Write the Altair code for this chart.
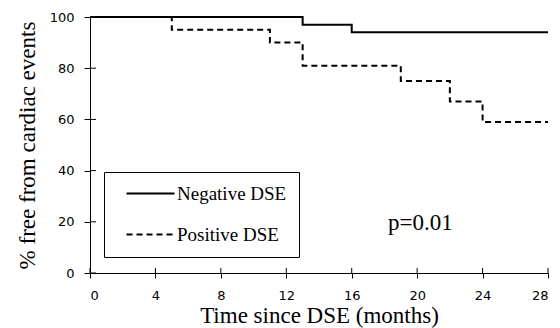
import altair as alt
import pandas as pd

# Kaplan-Meier steps
neg_time = [0, 13, 16, 28]
neg_free = [100, 97, 94, 94]
pos_time = [0, 5, 11, 13, 19, 22, 24, 28]
pos_free = [100, 95, 90, 81, 75, 67, 59, 59]
groups = ["Negative DSE", "Positive DSE"]

x_ticks = [0, 4, 8, 12, 16, 20, 24, 28]
y_ticks = [0, 20, 40, 60, 80, 100]

p_label = ["p=0.01"]
p_x = [20.2]
p_y = [19.7]

df = pd.concat([
    pd.DataFrame({"time": neg_time, "free": neg_free, "group": groups[0], "ord": 1}),
    pd.DataFrame({"time": pos_time, "free": pos_free, "group": groups[1], "ord": 0}),
])

W, H = 458, 256
xs = alt.Scale(domain=[0, 28], nice=False, zero=False)
ys = alt.Scale(domain=[0, 100], nice=False)

lines = alt.Chart(df).mark_line(interpolate="step-after", strokeWidth=2, color="black").encode(
    x=alt.X("time:Q", scale=xs,
            axis=alt.Axis(values=x_ticks, title="Time since DSE (months)", grid=False,
                          tickSize=5, labelPadding=11, titlePadding=2)),
    y=alt.Y("free:Q", scale=ys,
            axis=alt.Axis(values=y_ticks, title="% free from cardiac events", grid=False,
                          tickSize=6, labelPadding=10, titlePadding=10)),
    strokeDash=alt.StrokeDash(
        "group:N",
        scale=alt.Scale(domain=groups, range=[[1, 0], [6, 4]]),
        legend=alt.Legend(
            title=None, orient="none", legendX=14, legendY=155,
            symbolType="M-3,0H3", symbolSize=256, symbolStrokeWidth=2,
            symbolStrokeColor="black", symbolOffset=25, labelOffset=17,
            labelFont="Liberation Serif", labelFontSize=19, labelColor="black",
            strokeColor="black", padding=12, rowPadding=21, fillColor="white",
        ),
    ),
    order="ord:Q",
)

ytick_df = pd.DataFrame({"v": y_ticks})
xtick_df = pd.DataFrame({"v": x_ticks})

yin = alt.Chart(ytick_df).mark_rule(color="black", strokeWidth=1).encode(
    y=alt.Y("v:Q", scale=ys), x=alt.value(0), x2=alt.value(6))
xin = alt.Chart(xtick_df).mark_rule(color="black", strokeWidth=1).encode(
    x=alt.X("v:Q", scale=xs), y=alt.value(H), y2=alt.value(H - 5))

ptext = alt.Chart(pd.DataFrame({"x": p_x, "y": p_y, "t": p_label})).mark_text(
    font="Liberation Serif", fontSize=23, color="black", align="center", baseline="middle"
).encode(x=alt.X("x:Q", scale=xs), y=alt.Y("y:Q", scale=ys), text="t:N")

chart = alt.layer(lines, yin, xin, ptext).properties(
    width=W, height=H,
    autosize=alt.AutoSizeParams(type="none"),
    padding={"left": 82, "top": 9, "right": 4, "bottom": 62},
).configure_view(stroke=None).configure_axis(
    domainColor="black", domainWidth=1, tickColor="black", tickWidth=1,
    labelColor="black", labelFont="DejaVu Sans", labelFontSize=13,
    titleColor="black", titleFont="Liberation Serif", titleFontSize=23,
    titleFontWeight="normal",
)

chart.save("out.html", embed_options={"renderer": "svg", "actions": False})
